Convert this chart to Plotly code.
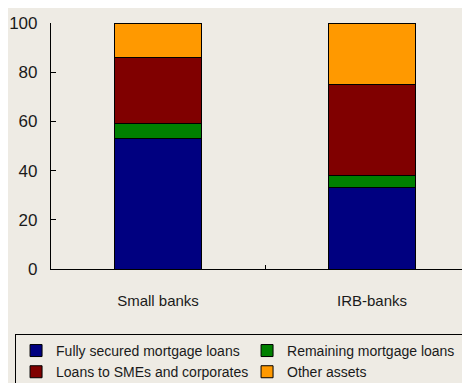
import plotly.graph_objects as go

banks = ["Small banks", "IRB-banks"]
fully_secured = [53, 33]
remaining_mortgage = [6, 5]
loans_sme_corp = [27, 37]
other_assets = [14, 25]

series = [
    ("Fully secured mortgage loans", fully_secured, "#000080"),
    ("Remaining mortgage loans", remaining_mortgage, "#008000"),
    ("Loans to SMEs and corporates", loans_sme_corp, "#800000"),
    ("Other assets", other_assets, "#FF9900"),
]

bg = "#EEEBE4"
font_family = "Liberation Sans Narrow, Arial Narrow, Liberation Sans, Arial, sans-serif"

fig = go.Figure()
for name, vals, color in series:
    fig.add_trace(
        go.Bar(
            x=banks,
            y=vals,
            name=name,
            width=0.41,
            marker=dict(color=color, line=dict(color="#000000", width=1)),
        )
    )

# the page adds an 8px body margin; the figure is a bit wider than the
# window so the legend box runs off the right edge like the original
fig.update_layout(
    barmode="stack",
    width=500,
    height=383,
    paper_bgcolor=bg,
    plot_bgcolor=bg,
    font=dict(family=font_family, color="#1a1a1a", size=15),
    margin=dict(l=43, r=29, t=15, b=122, autoexpand=False),
    showlegend=True,
    legend=dict(
        orientation="h",
        x=-0.084,
        y=-0.264,
        xanchor="left",
        yanchor="top",
        traceorder="normal",
        entrywidth=186,
        entrywidthmode="pixels",
        bordercolor="#000000",
        borderwidth=1,
        bgcolor=bg,
        font=dict(size=14, family=font_family),
        itemwidth=30,
    ),
)

fig.update_xaxes(
    range=[-0.5, 1.5],
    showline=True,
    linecolor="#000000",
    linewidth=1.2,
    ticks="inside",
    tickson="boundaries",
    ticklen=4,
    tickcolor="#000000",
    showgrid=False,
    ticklabelstandoff=18,
    tickfont=dict(size=15),
)
fig.update_yaxes(
    range=[0, 100],
    dtick=20,
    showline=True,
    linecolor="#000000",
    linewidth=1.2,
    ticks="inside",
    ticklen=5,
    tickcolor="#000000",
    showgrid=False,
    zeroline=False,
    ticklabelstandoff=9,
    tickfont=dict(size=17),
)

fig.write_html("out.html")
